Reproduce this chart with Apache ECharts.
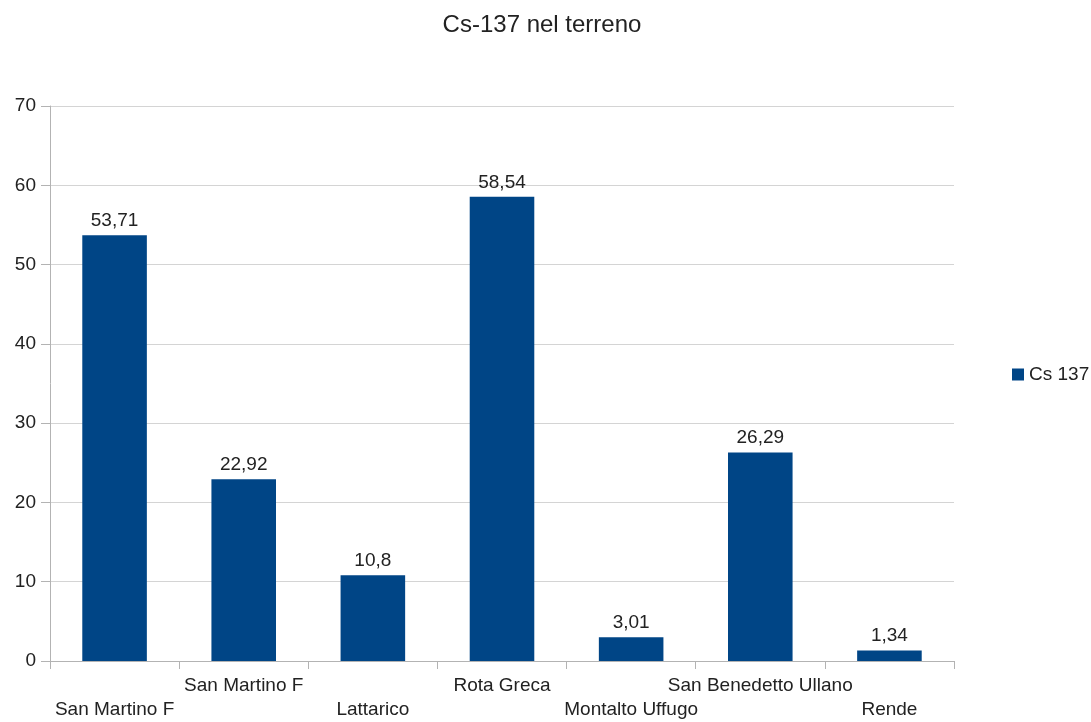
<!DOCTYPE html>
<html>
<head>
<meta charset="utf-8">
<script src="https://cdn.jsdelivr.net/npm/echarts@6/dist/echarts.min.js"></script>
<style>html,body{margin:0;padding:0;background:#fff}#c{width:1091px;height:722px}</style>
</head>
<body>
<div id="c"></div>
<script>
const categories = ['San Martino F', 'San Martino F', 'Lattarico', 'Rota Greca', 'Montalto Uffugo', 'San Benedetto Ullano', 'Rende'];
const seriesName = 'Cs 137';
const values = [53.71, 22.92, 10.8, 58.54, 3.01, 26.29, 1.34];
const yTicks = { min: 0, max: 70, interval: 10 };
const titleText = 'Cs-137 nel terreno';

const font = '"Liberation Sans", Arial, sans-serif';
const chart = echarts.init(document.getElementById('c'), null, { renderer: 'canvas' });
chart.setOption({
  animation: false,
  backgroundColor: '#fff',
  textStyle: { fontFamily: font },
  title: {
    text: titleText,
    left: 537, top: 8, textAlign: 'center',
    textStyle: { fontFamily: font, fontSize: 24, fontWeight: 'normal', color: '#222' }
  },
  legend: {
    data: [seriesName],
    left: 1007, top: 360,
    itemWidth: 12, itemHeight: 12, itemGap: 6,
    icon: 'rect',
    textStyle: { fontFamily: font, fontSize: 19, color: '#222' }
  },
  grid: { left: 50, right: 137, top: 106, bottom: 60, containLabel: false },
  xAxis: {
    type: 'category',
    data: categories,
    boundaryGap: true,
    axisLine: { show: true, lineStyle: { color: '#b3b3b3', width: 1 } },
    axisTick: { show: true, length: 8, lineStyle: { color: '#b3b3b3' } },
    axisLabel: {
      interval: 0, margin: 13, fontSize: 19, color: '#222', lineHeight: 24,
      fontFamily: font,
      formatter: (v, i) => (i % 2 === 1 ? v + '\n ' : ' \n' + v)
    },
    splitLine: { show: false }
  },
  yAxis: {
    type: 'value',
    min: yTicks.min, max: yTicks.max, interval: yTicks.interval,
    axisLine: { show: true, lineStyle: { color: '#b3b3b3', width: 1 } },
    axisTick: { show: true, length: 9, lineStyle: { color: '#b3b3b3' } },
    axisLabel: { margin: 14, fontSize: 19, color: '#222', fontFamily: font },
    splitLine: { show: true, lineStyle: { color: '#d4d4d4', width: 1 } }
  },
  series: [{
    name: seriesName,
    type: 'bar',
    data: values,
    barWidth: '50%',
    itemStyle: { color: '#004586' },
    label: {
      show: true, position: 'top', distance: 5,
      fontSize: 19, color: '#222', fontFamily: font,
      formatter: p => String(p.value).replace('.', ',')
    }
  }]
});
</script>
</body>
</html>
